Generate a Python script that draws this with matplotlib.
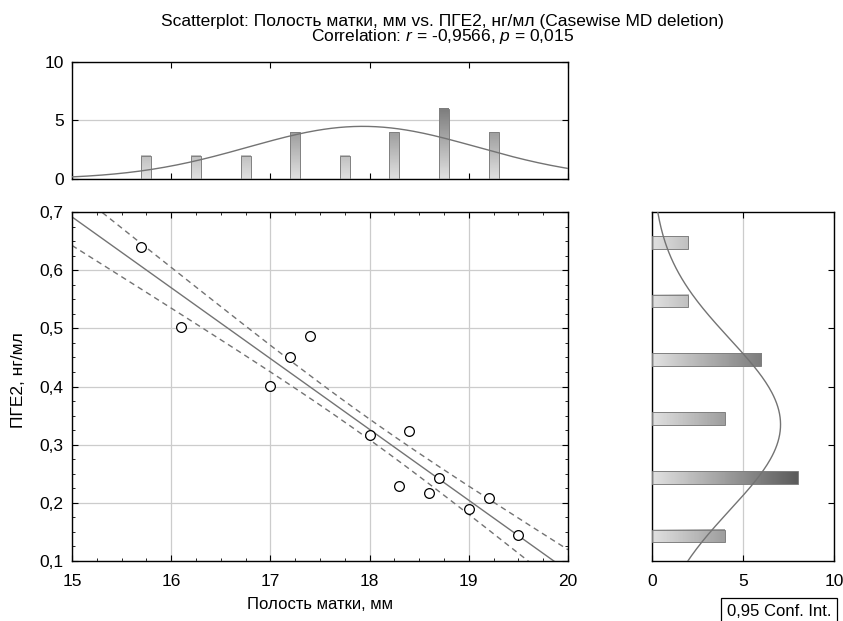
import numpy as np
import matplotlib
matplotlib.use('Agg')
from matplotlib import pyplot as plt
from matplotlib.patches import Rectangle
from matplotlib.ticker import AutoMinorLocator, FuncFormatter

plt.rcParams['font.family'] = ['Liberation Sans', 'DejaVu Sans']
plt.rcParams['mathtext.fontset'] = 'custom'
plt.rcParams['mathtext.it'] = 'Liberation Sans:italic'
plt.rcParams['mathtext.rm'] = 'Liberation Sans'

# cases (every case is counted twice in the source sheet)
cavity_mm = [15.7, 16.1, 17.0, 17.2, 17.4, 18.0, 18.3, 18.4, 18.6, 18.7, 19.0, 19.2, 19.5]
pge2 = [0.640, 0.502, 0.401, 0.451, 0.486, 0.317, 0.229, 0.323, 0.217, 0.243, 0.189, 0.208, 0.144]
case_repeat = 2

# marginal histograms
top_bins = [15.75, 16.25, 16.75, 17.25, 17.75, 18.25, 18.75, 19.25]
top_counts = [2, 2, 2, 4, 2, 4, 6, 4]
right_bins = [0.648, 0.547, 0.446, 0.345, 0.244, 0.143]
right_counts = [2, 2, 6, 4, 8, 4]

t_975 = 2.064  # df = 24

x = np.repeat(np.array(cavity_mm), case_repeat)
y = np.repeat(np.array(pge2), case_repeat)
n = len(x)
slope, intercept = np.polyfit(x, y, 1)
resid = y - (slope * x + intercept)
s = np.sqrt(np.sum(resid ** 2) / (n - 2))
sxx = np.sum((x - x.mean()) ** 2)


def comma(v, _):
    return f'{v:g}'.replace('.', ',')


def shade(v):
    return max(0.88 - 0.065 * v, 0.2)


def normal_counts(grid, data, binw):
    mu, sd = data.mean(), data.std(ddof=1)
    return len(data) * binw * np.exp(-0.5 * ((grid - mu) / sd) ** 2) / (sd * np.sqrt(2 * np.pi))


fig = plt.figure(figsize=(8.43, 6.21), dpi=100)
ax = fig.add_axes([0.0854, 0.0966, 0.5884, 0.562])
ax_top = fig.add_axes([0.0854, 0.7118, 0.5884, 0.1884])
ax_r = fig.add_axes([0.7734, 0.0966, 0.2159, 0.562])

fs = 12.5
line_col = '0.45'

# main scatter
xs = np.linspace(15, 20, 200)
fit = slope * xs + intercept
half = t_975 * s * np.sqrt(1 / n + (xs - x.mean()) ** 2 / sxx)
ax.plot(xs, fit, color=line_col, lw=1)
ax.plot(xs, fit + half, color=line_col, lw=1, ls=(0, (4, 3)))
ax.plot(xs, fit - half, color=line_col, lw=1, ls=(0, (4, 3)))
ax.plot(cavity_mm, pge2, 'o', mfc='white', mec='black', ms=7, mew=0.9, zorder=5)
ax.set_xlim(15, 20)
ax.set_ylim(0.1, 0.7)
ax.set_xticks(np.arange(15, 21, 1))
ax.set_yticks(np.arange(0.1, 0.71, 0.1))
ax.xaxis.set_minor_locator(AutoMinorLocator(4))
ax.yaxis.set_minor_locator(AutoMinorLocator(4))
ax.xaxis.set_major_formatter(FuncFormatter(comma))
ax.yaxis.set_major_formatter(FuncFormatter(comma))
ax.tick_params(which='both', direction='in', top=True, right=True, labelsize=fs)
ax.tick_params(which='major', length=4)
ax.tick_params(which='minor', length=2.5)
ax.tick_params(axis='x', pad=9)
ax.tick_params(axis='y', pad=6)
ax.grid(True, which='major', color='0.8', lw=0.9)
ax.set_axisbelow(True)
ax.set_xlabel('Полость матки, мм', fontsize=12, labelpad=6)
ax.set_ylabel('ПГЕ2, нг/мл', fontsize=12.5)
ax.yaxis.set_label_coords(-0.093, 0.519)

# top histogram
bw_top = 0.1
for c, h in zip(top_bins, top_counts):
    grad = np.array([shade(v) for v in np.linspace(0, h, 50)]).reshape(-1, 1)
    ax_top.imshow(grad, cmap='gray', vmin=0, vmax=1, origin='lower', aspect='auto',
                  extent=[c - bw_top / 2, c + bw_top / 2, 0, h], interpolation='bilinear', zorder=2)
    ax_top.add_patch(Rectangle((c - bw_top / 2, 0), bw_top, h, fill=False, ec='0.5', lw=0.7, zorder=3))
ax_top.plot(xs, normal_counts(xs, x, 0.5), color=line_col, lw=1, zorder=4)
ax_top.set_xlim(15, 20)
ax_top.set_ylim(0, 10)
ax_top.set_xticks(np.arange(15, 21, 1))
ax_top.set_yticks([0, 5, 10])
ax_top.tick_params(direction='in', top=True, right=True, labelbottom=False, labelsize=fs, length=4)
ax_top.tick_params(axis='y', pad=6)
ax_top.grid(True, axis='y', color='0.8', lw=0.9)
ax_top.set_axisbelow(True)

# right histogram
bw_r = 0.022
for c, w in zip(right_bins, right_counts):
    grad = np.array([shade(v) for v in np.linspace(0, w, 50)]).reshape(1, -1)
    ax_r.imshow(grad, cmap='gray', vmin=0, vmax=1, origin='lower', aspect='auto',
                extent=[0, w, c - bw_r / 2, c + bw_r / 2], interpolation='bilinear', zorder=2)
    ax_r.add_patch(Rectangle((0, c - bw_r / 2), w, bw_r, fill=False, ec='0.5', lw=0.7, zorder=3))
ys = np.linspace(0.1, 0.7, 200)
ax_r.plot(normal_counts(ys, y, 0.1), ys, color=line_col, lw=1, zorder=4)
ax_r.set_xlim(0, 10)
ax_r.set_ylim(0.1, 0.7)
ax_r.set_xticks([0, 5, 10])
ax_r.set_yticks(np.arange(0.2, 0.61, 0.1))
ax_r.tick_params(direction='in', top=True, right=True, left=False, labelleft=False,
                 labelsize=fs, length=4)
ax_r.tick_params(axis='x', pad=9)
ax_r.grid(True, axis='x', color='0.8', lw=0.9)
ax_r.set_axisbelow(True)

for a in (ax, ax_top, ax_r):
    for sp in a.spines.values():
        sp.set_linewidth(1)

fig.text(0.525, 0.952,
         'Scatterplot: Полость матки, мм vs. ПГЕ2, нг/мл (Casewise MD deletion)\n'
         'Correlation: $\\mathit{r}$ = -0,9566, $\\mathit{p}$ = 0,015',
         ha='center', va='center', multialignment='center', fontsize=12.5, linespacing=0.9)
fig.text(0.924, 0.016, '0,95 Conf. Int.', ha='center', va='center', fontsize=12,
         bbox=dict(boxstyle='square,pad=0.35', fc='white', ec='black', lw=0.9))

fig.savefig('out.png', dpi=100)
